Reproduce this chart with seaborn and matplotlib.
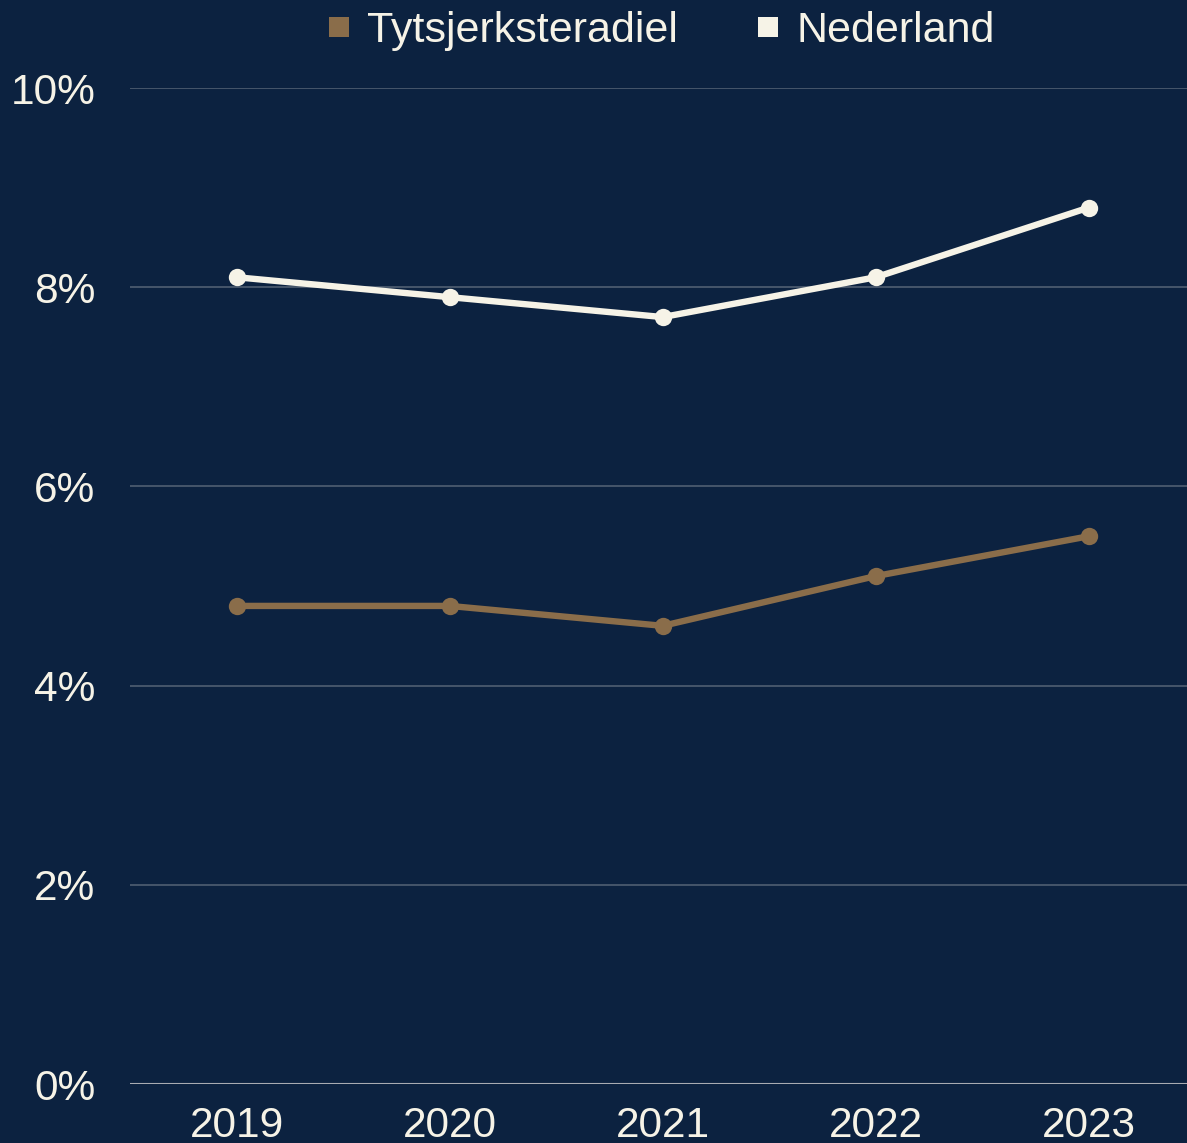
import pandas as pd
import matplotlib.pyplot as plt
import seaborn as sns
from matplotlib.lines import Line2D
from matplotlib.ticker import FuncFormatter

jaren = ["2019", "2020", "2021", "2022", "2023"]
tytsjerksteradiel = [4.8, 4.8, 4.6, 5.1, 5.5]
nederland = [8.1, 7.9, 7.7, 8.1, 8.8]
reeksen = ["Tytsjerksteradiel", "Nederland"]
kleuren = ["#8a6d4a", "#f6f3e7"]

achtergrond = "#0c2240"
tekst = "#f6f3e7"

df = pd.DataFrame({
    "jaar": jaren * 2,
    "waarde": tytsjerksteradiel + nederland,
    "reeks": [reeksen[0]] * len(jaren) + [reeksen[1]] * len(jaren),
})
df["x"] = df["jaar"].map({j: i for i, j in enumerate(jaren)})

sns.set_theme(style="dark")
plt.rcParams["font.family"] = ["Liberation Sans", "DejaVu Sans"]

fig = plt.figure(figsize=(11.87, 11.43), dpi=100, facecolor=achtergrond)
ax = fig.add_axes([130 / 1187, 59 / 1143, 1 - 130 / 1187, (1084 - 88) / 1143])
ax.set_facecolor(achtergrond)

sns.lineplot(data=df, x="x", y="waarde", hue="reeks", hue_order=reeksen,
             palette=kleuren, marker="o", markersize=12.5, markeredgewidth=0,
             linewidth=4.6, legend=False, ax=ax, zorder=3)

ax.set_xlim(-0.5, 4.46)
ax.set_ylim(0, 10)
ax.set_yticks([0, 2, 4, 6, 8, 10])
ax.yaxis.set_major_formatter(FuncFormatter(lambda v, p: f"{v:.0f}%"))
ax.set_xticks(range(len(jaren)))
ax.set_xticklabels(jaren)
ax.set_xlabel("")
ax.set_ylabel("")

ax.grid(axis="y", color="#4b5a6e", linewidth=1.3)
ax.grid(axis="x", visible=False)
for s in ax.spines.values():
    s.set_visible(False)
ax.axhline(0, color="#a9acb2", linewidth=1.5, zorder=2)

ax.tick_params(axis="y", length=0, pad=25, labelsize=30.5, labelcolor=tekst)
ax.tick_params(axis="x", length=0, pad=16, labelsize=30.5, labelcolor=tekst)

handles = [Line2D([], [], linestyle="none", marker="s", markersize=15,
                  markerfacecolor=c, markeredgewidth=0) for c in kleuren]
fig.legend(handles, reeksen, loc="center", bbox_to_anchor=(656 / 1187, 1 - 31 / 1143),
           ncol=2, frameon=False, fontsize=31, labelcolor=tekst,
           handletextpad=0.15, columnspacing=1.6, handlelength=1.0)

fig.savefig("out.png", dpi=100, facecolor=achtergrond)
